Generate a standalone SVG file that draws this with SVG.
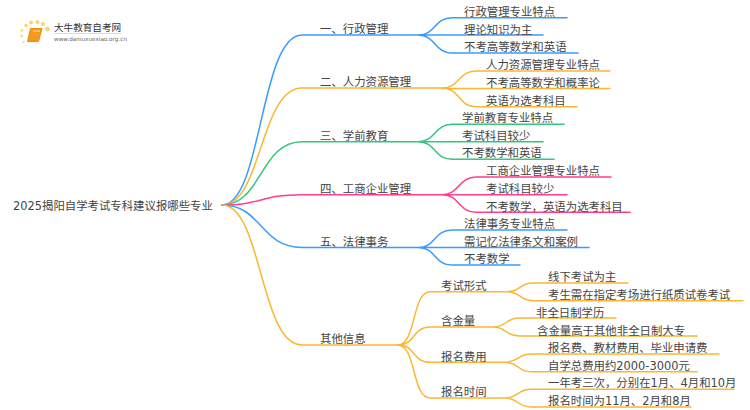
<svg xmlns="http://www.w3.org/2000/svg" width="750" height="410" viewBox="0 0 750 410">
<style>
text{font-family:"DejaVu Sans","Noto Sans CJK SC",sans-serif;font-size:11.4px;fill:#444}
.c{fill:none;stroke-width:1.5;stroke-linecap:round}
.b{stroke:#3a9bff}.o{stroke:#fab733}.g{stroke:#33c77f}.p{stroke:#ff3f8e}
.d{fill:#fbd36b}
</style>
<rect width="750" height="410" fill="#fff"/>
<g id="connectors">
<path class="c b" d="M222 205C262 205 260 35 302 35H418M418 35C436 35 434 17.700 452 17.700H567M418 35H543M418 35C436 35 434 53 452 53H578"/>
<path class="c o" d="M222 205C262 205 260 88 302 88H442M442 88C460 88 458 71 476 71H610M442 88.500H610M442 88C460 88 458 106.700 476 106.700H577"/>
<path class="c g" d="M222 205C262 205 260 141.700 302 141.700H418M418 141.700C436 141.700 434 124.300 452 124.300H564M418 141.700H543M418 141.700C436 141.700 434 159.300 452 159.300H554"/>
<path class="c p" d="M222 205C262 205 260 194.700 302 194.700H442M442 194.700C460 194.700 458 177 476 177H611M442 194.700H567M442 194.700C460 194.700 458 212.300 476 212.300H630"/>
<path class="c b" d="M222 205C262 205 260 247.500 302 247.500H418M418 247.500C436 247.500 434 230 452 230H567M418 247.500H589M418 247.500C436 247.500 434 265 452 265H520"/>
<path class="c o" d="M222 205C262 205 260 345 302 345H398"/>
<path class="c o" d="M398 345C416 345 412 291.700 430 291.700H507M507 291.700C521 291.700 519 283 533 283H628M507 291.700C521 291.700 519 300.700 533 300.700H743"/>
<path class="c o" d="M398 345C416 345 412 327 430 327H493M493 327C507 327 505 318 519 318H616M493 327C507 327 505 336 519 336H697"/>
<path class="c o" d="M398 345C416 345 412 362.300 430 362.300H505M505 362.300C519 362.300 517 354 531 354H719M505 362.300C519 362.300 517 371.700 531 371.700H697"/>
<path class="c o" d="M398 345C416 345 412 398 430 398H505M505 398C519 398 517 389.300 531 389.300H734M505 398C519 398 517 407 531 407H691"/>
</g>
<g id="logo">
<circle class="d" cx="31" cy="22.500" r="2"/><circle class="d" cx="37.500" cy="22" r="2"/><circle class="d" cx="26" cy="25.500" r="1.700"/><circle class="d" cx="43" cy="24" r="2"/><circle class="d" cx="47.500" cy="29" r="2.300"/><circle class="d" cx="22" cy="30.500" r="1.300"/><circle class="d" cx="21.500" cy="36" r="1.200"/><circle class="d" cx="23.500" cy="42" r="1"/>
<path d="M30.500 28.500H42L38.500 41.500H27.500Z" fill="#f49a1d" stroke="#ee8a12" stroke-width="1"/>
<path d="M33 31H40" stroke="#fde0a0" stroke-width="1"/>
<text x="54" y="31" style="font-size:9.600px;fill:#333">大牛教育自考网</text>
<path d="M54 33.500H121" stroke="#ccc" stroke-width="0.700"/>
<text x="54" y="41" style="font-size:5.700px;fill:#666">www.daniuxuexiao.org.cn</text>
</g>
<g id="root"><text x="13" y="210">2025揭阳自学考试专科建议报哪些专业</text></g>
<g id="n1"><text x="320" y="33">一、行政管理</text><text x="464" y="16">行政管理专业特点</text><text x="464" y="34">理论知识为主</text><text x="464" y="51">不考高等数学和英语</text></g>
<g id="n2"><text x="320" y="86">二、人力资源管理</text><text x="486" y="69">人力资源管理专业特点</text><text x="486" y="87">不考高等数学和概率论</text><text x="486" y="105">英语为选考科目</text></g>
<g id="n3"><text x="320" y="140">三、学前教育</text><text x="462" y="122">学前教育专业特点</text><text x="462" y="140">考试科目较少</text><text x="462" y="157">不考数学和英语</text></g>
<g id="n4"><text x="320" y="193">四、工商企业管理</text><text x="486" y="175">工商企业管理专业特点</text><text x="486" y="193">考试科目较少</text><text x="486" y="211">不考数学，英语为选考科目</text></g>
<g id="n5"><text x="320" y="246">五、法律事务</text><text x="464" y="228">法律事务专业特点</text><text x="464" y="246">需记忆法律条文和案例</text><text x="464" y="263">不考数学</text></g>
<g id="n6"><text x="320" y="343">其他信息</text>
<text x="441" y="290">考试形式</text><text x="548" y="281">线下考试为主</text><text x="548" y="299">考生需在指定考场进行纸质试卷考试</text>
<text x="441" y="325">含金量</text><text x="536" y="317">非全日制学历</text><text x="537" y="335">含金量高于其他非全日制大专</text>
<text x="441" y="361">报名费用</text><text x="548" y="352">报名费、教材费用、毕业申请费</text><text x="548" y="370">自学总费用约2000-3000元</text>
<text x="441" y="396">报名时间</text><text x="548" y="387">一年考三次，分别在1月、4月和10月</text><text x="548" y="405">报名时间为11月、2月和8月</text></g>
</svg>
